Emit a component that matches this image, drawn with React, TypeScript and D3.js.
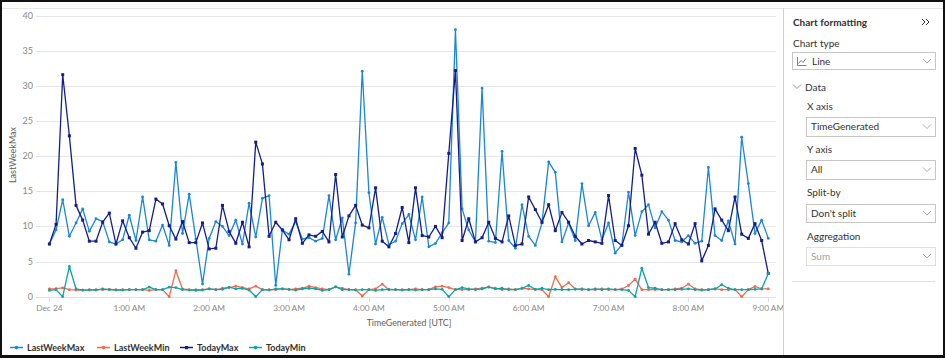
import React from 'react';
import * as d3 from 'd3';

const START = new Date(2023, 11, 24, 0, 0);
const END = new Date(2023, 11, 24, 9, 0);
const TIMES: Date[] = d3.timeMinute.every(5)!.range(START, new Date(END.getTime() + 1));

const lastWeekMax = [
  7.5, 9.5, 13.8, 8.6, 10.5, 12.5, 9.3, 11.1, 10.7, 7.8, 7.5, 8.1, 11.6, 8.0, 14.2, 8.1, 7.9, 10.2, 7.3, 19.1,
  9.0, 14.6, 8.2, 1.8, 8.3, 10.7, 10.0, 8.7, 10.9, 7.5, 13.3, 8.5, 14.0, 14.4, 1.6, 9.5, 8.9, 10.7, 8.2, 8.4,
  7.9, 8.3, 14.4, 8.1, 11.2, 3.2, 10.5, 32.1, 14.8, 7.5, 11.3, 7.4, 7.9, 10.4, 11.7, 8.1, 14.2, 7.1, 7.6, 9.1,
  10.5, 38.0, 12.5, 9.5, 7.8, 29.7, 7.9, 7.7, 20.7, 8.0, 6.9, 13.1, 8.6, 7.3, 10.5, 19.2, 17.7, 7.8, 10.5, 8.0,
  16.1, 10.1, 12.0, 8.1, 10.5, 6.2, 7.4, 14.9, 8.7, 12.1, 13.1, 9.8, 12.1, 10.9, 8.0, 7.8, 8.7, 7.6, 7.9, 18.4,
  8.7, 8.0, 10.8, 7.5, 22.7, 16.1, 9.0, 10.9, 8.3,
];
const lastWeekMin = [
  1.1, 1.15, 1.25, 1.0, 0.95, 0.95, 1.0, 1.0, 1.0, 1.05, 1.0, 1.0, 1.0, 1.0, 1.0, 0.9, 1.0, 1.0, 0.0, 3.7,
  1.1, 1.0, 1.0, 1.0, 1.1, 1.0, 1.2, 1.3, 1.5, 1.3, 1.1, 1.5, 1.0, 1.0, 1.0, 1.1, 1.0, 1.1, 1.2, 1.5,
  1.3, 1.1, 1.0, 1.4, 1.2, 1.0, 1.0, 0.1, 1.0, 1.1, 1.8, 1.0, 1.0, 1.0, 1.0, 1.1, 1.0, 1.0, 1.4, 1.5,
  1.3, 1.0, 1.0, 1.0, 1.1, 1.2, 1.4, 1.2, 1.0, 1.1, 1.0, 1.2, 1.1, 1.0, 1.0, 0.0, 2.86, 1.3, 2.0, 1.1,
  1.0, 1.0, 1.0, 1.1, 1.0, 1.0, 1.1, 1.6, 2.5, 1.0, 1.0, 1.0, 1.0, 1.0, 1.1, 1.2, 1.8, 1.1, 1.0, 1.0,
  1.1, 1.0, 1.0, 1.0, 0.0, 1.0, 1.45, 1.1, 1.1,
];
const todayMax = [
  7.5, 10.3, 31.6, 22.9, 13.0, 10.9, 7.9, 7.9, 10.6, 11.9, 7.5, 10.8, 8.4, 6.9, 9.2, 9.4, 13.9, 13.2, 10.1, 8.2,
  10.7, 7.7, 7.7, 10.5, 6.8, 6.9, 13.0, 9.3, 7.6, 10.6, 7.1, 22.0, 18.9, 8.6, 10.6, 9.5, 8.1, 11.1, 7.6, 8.8,
  8.6, 9.3, 7.8, 17.4, 8.5, 11.5, 13.0, 10.2, 9.8, 15.5, 7.9, 7.1, 9.0, 12.7, 7.7, 15.5, 8.7, 8.5, 10.0, 8.4,
  20.4, 32.2, 8.0, 11.1, 7.8, 8.4, 10.6, 8.3, 7.8, 11.5, 7.3, 7.5, 14.2, 12.4, 10.6, 13.1, 9.4, 12.0, 10.6, 8.6,
  7.5, 8.0, 7.8, 7.6, 14.4, 8.0, 7.3, 10.1, 21.1, 17.3, 8.9, 10.6, 7.6, 7.8, 10.4, 8.1, 7.5, 10.4, 5.1, 7.3,
  12.5, 10.9, 9.4, 14.2, 8.9, 8.3, 10.4, 8.0, 3.3,
];
const todayMin = [
  0.9, 1.0, 0.0, 4.3, 1.1, 0.95, 0.95, 0.95, 1.1, 1.0, 0.95, 0.95, 1.0, 1.0, 1.0, 1.35, 1.0, 1.0, 1.35, 1.3,
  1.0, 0.95, 0.9, 0.95, 1.1, 1.0, 1.05, 1.35, 1.1, 1.2, 0.95, 0.0, 1.0, 0.95, 1.1, 1.1, 1.05, 0.95, 1.1, 1.2,
  1.1, 0.9, 1.0, 1.4, 1.0, 1.0, 0.95, 1.0, 1.0, 0.9, 1.0, 1.05, 1.0, 0.95, 1.0, 0.95, 1.0, 1.0, 1.1, 1.05,
  0.0, 1.0, 1.3, 1.1, 1.0, 1.1, 1.35, 1.1, 1.2, 1.0, 1.0, 1.2, 1.6, 1.05, 1.2, 1.0, 1.05, 1.0, 1.0, 1.05,
  1.1, 1.0, 1.1, 1.0, 1.1, 1.0, 1.0, 0.9, 0.0, 4.05, 1.3, 1.2, 1.0, 1.0, 1.0, 1.05, 1.1, 1.0, 0.95, 1.0,
  1.1, 1.7, 1.2, 1.0, 1.0, 1.0, 1.05, 1.1, 3.3,
];

const Y_TICKS = [0, 5, 10, 15, 20, 25, 30, 35, 40];
const X_TICK_LABELS = ['Dec 24', '1:00 AM', '2:00 AM', '3:00 AM', '4:00 AM', '5:00 AM', '6:00 AM', '7:00 AM', '8:00 AM', '9:00 AM'];
const X_TICKS = d3.timeHour.every(1)!.range(START, new Date(END.getTime() + 1));

const SERIES = [
  { name: 'LastWeekMax', values: lastWeekMax, color: '#1a86d6', marker: 'circle' },
  { name: 'LastWeekMin', values: lastWeekMin, color: '#ee6a50', marker: 'circle' },
  { name: 'TodayMax', values: todayMax, color: '#141d8c', marker: 'square' },
  { name: 'TodayMin', values: todayMin, color: '#10a3a6', marker: 'circle' },
];

const FONT = 'Lato, "Noto Sans", sans-serif';

function Chevron({ x, y, color = '#8a8886' }: { x: number; y: number; color?: string }) {
  return <path d={`M${x - 4},${y - 2} L${x},${y + 2} L${x + 4},${y - 2}`} fill="none" stroke={color} strokeWidth={0.9} />;
}

function Dropdown({ x, y, w, h, label, disabled }: { x: number; y: number; w: number; h: number; label: string; disabled?: boolean }) {
  return (
    <g>
      <rect x={x + 0.5} y={y + 0.5} width={w} height={h} fill="#fff" stroke={disabled ? '#e1dfdd' : '#c8c6c4'} />
      <text x={x + 5} y={y + h / 2 + 3.5} fontSize={10} fill={disabled ? '#a19f9d' : '#323130'}>{label}</text>
      <Chevron x={x + w - 8} y={y + h / 2} color="#a19f9d" />
    </g>
  );
}

export default function App() {
  const W = 945, H = 358;
  const x = d3.scaleTime().domain([START, END]).range([49.4, 768.3]);
  const y = d3.scaleLinear().domain([0, 40]).range([296.7, 15.7]);
  const gridX0 = 36, gridX1 = 776;

  const line = d3.line<number>()
    .x((_, i) => x(TIMES[i]))
    .y((d) => y(d));

  const legendX = [10, 97, 180, 249];

  return (
    <div style={{ position: 'absolute', left: 0, top: 0 }}>
      <svg width={W} height={H} style={{ display: 'block', fontFamily: FONT }}>
        <rect x={0} y={0} width={W} height={H} fill="#fff" />
        <line x1={2} x2={943} y1={8.5} y2={8.5} stroke="#e8e8e8" />
        {Y_TICKS.map((t) => (
          <g key={t}>
            <line x1={gridX0} x2={gridX1} y1={Math.round(y(t)) + 0.5} y2={Math.round(y(t)) + 0.5} stroke={t === 0 ? '#dcdfea' : '#e6e6e6'} />
            <text x={33} y={y(t) + 3} fontSize={9} textAnchor="end" fill="#8a8886">{t}</text>
          </g>
        ))}
        {X_TICKS.map((t, i) => (
          <g key={i}>
            <line x1={Math.round(x(t)) + 0.5} x2={Math.round(x(t)) + 0.5} y1={297} y2={302} stroke="#dcdfea" />
            <text x={x(t)} y={311} fontSize={8.3} textAnchor="middle" fill="#8a8886">{X_TICK_LABELS[i]}</text>
          </g>
        ))}
        <text x={409} y={326} fontSize={8.8} textAnchor="middle" fill="#605e5c">TimeGenerated [UTC]</text>
        <text transform="translate(16,155) rotate(-90)" fontSize={9} textAnchor="middle" fill="#605e5c">LastWeekMax</text>

        {SERIES.map((s) => (
          <g key={s.name}>
            <path d={line(s.values) || ''} fill="none" stroke={s.color} strokeWidth={1.3} strokeLinejoin="round" />
            {s.values.map((v, i) =>
              s.marker === 'square' ? (
                <rect key={i} x={x(TIMES[i]) - 1.5} y={y(v) - 1.5} width={3} height={3} fill={s.color} />
              ) : (
                <circle key={i} cx={x(TIMES[i])} cy={y(v)} r={1.4} fill={s.color} />
              )
            )}
          </g>
        ))}

        {SERIES.map((s, i) => (
          <g key={s.name}>
            <line x1={legendX[i]} x2={legendX[i] + 13} y1={347.5} y2={347.5} stroke={s.color} strokeWidth={1.5} />
            {s.marker === 'square' ? (
              <rect x={legendX[i] + 5} y={346} width={3.2} height={3.2} fill={s.color} />
            ) : (
              <circle cx={legendX[i] + 6.5} cy={347.5} r={1.8} fill={s.color} />
            )}
            <text x={legendX[i] + 17} y={351} fontSize={9} fontWeight={700} fill="#323130">{s.name}</text>
          </g>
        ))}

        <line x1={783.5} x2={783.5} y1={8} y2={355} stroke="#d2d0ce" />
        <text x={793} y={26} fontSize={10} fontWeight={700} fill="#323130">Chart formatting</text>
        <path d="M922,19 L925,22 L922,25 M926,19 L929,22 L926,25" fill="none" stroke="#323130" strokeWidth={1} />
        <text x={793} y={47} fontSize={10} fill="#323130">Chart type</text>
        <rect x={792.5} y={52.5} width={143} height={17} fill="#fff" stroke="#c8c6c4" />
        <path d="M797.5,57 L797.5,65.5 L806.5,65.5 M798.5,63.5 L801,60.5 L803,62.5 L806,58.5" fill="none" stroke="#605e5c" strokeWidth={0.8} />
        <text x={812} y={64.5} fontSize={10} fill="#323130">Line</text>
        <Chevron x={927} y={61} color="#a19f9d" />
        <Chevron x={797} y={86.5} color="#8a8886" />
        <text x={805} y={90.5} fontSize={10} fill="#323130">Data</text>
        <text x={807} y={110} fontSize={10} fill="#323130">X axis</text>
        <Dropdown x={806} y={117} w={129} h={19} label="TimeGenerated" />
        <text x={807} y={153} fontSize={10} fill="#323130">Y axis</text>
        <Dropdown x={806} y={160} w={129} h={19} label="All" />
        <text x={807} y={196} fontSize={10} fill="#323130">Split-by</text>
        <Dropdown x={806} y={204} w={129} h={18} label="Don't split" />
        <text x={807} y={240} fontSize={10} fill="#323130">Aggregation</text>
        <Dropdown x={806} y={247} w={129} h={18} label="Sum" disabled />
        <line x1={792} x2={935} y1={281.5} y2={281.5} stroke="#e1dfdd" />

        <rect x={1} y={1} width={W - 2} height={H - 3} fill="none" stroke="#111" strokeWidth={2} />
        <line x1={0} x2={W} y1={356.5} y2={356.5} stroke="#111" strokeWidth={3} />
      </svg>
    </div>
  );
}
